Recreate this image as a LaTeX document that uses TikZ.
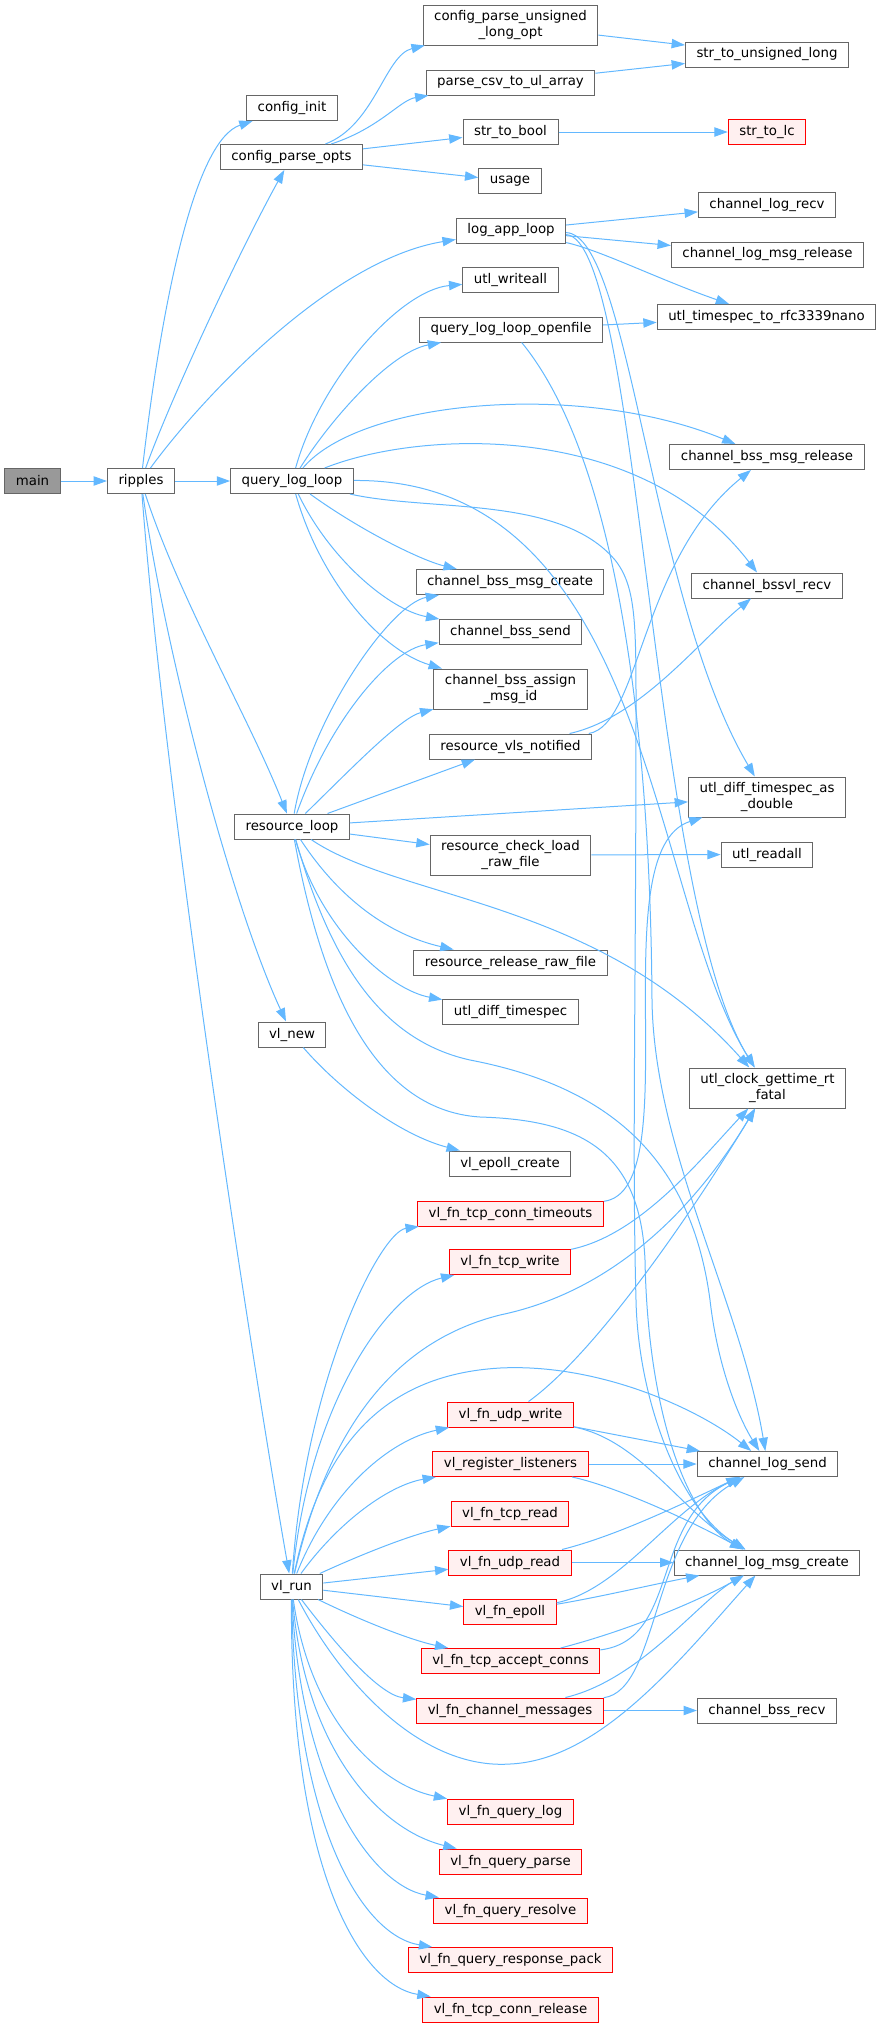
\documentclass[tikz,border=0pt]{standalone}
\usepackage{fontspec}
\setmainfont{DejaVu Sans}
\usetikzlibrary{arrows.meta}
\definecolor{edgeblue}{HTML}{63B8FF}
\definecolor{boxgray}{HTML}{666666}
\definecolor{rootgray}{HTML}{999999}
\definecolor{truncfill}{HTML}{FFF0F0}
\begin{document}
\begin{tikzpicture}[x=0.75pt, y=-0.75pt,
    fn/.style={draw=boxgray, fill=white, line width=0.75pt, font=\fontsize{10pt}{11.5pt}\selectfont,
      inner xsep=8.3pt, inner ysep=1pt, minimum height=18.75pt, align=center},
    tall/.style={minimum height=30pt},
    root/.style={fill=rootgray},
    trunc/.style={draw=red, fill=truncfill},
    calls/.style={draw=edgeblue, line width=0.75pt, -{Triangle[length=10pt,width=7pt]}}]
    \useasboundingbox (0,0) rectangle (880,2027);
    \node[fn, root] (v1) at (32.5,481) {main};
    \node[fn] (v2) at (141,481) {ripples};
    \node[fn] (v3) at (292,108) {config\_init};
    \node[fn] (v4) at (291.5,157) {config\_parse\_opts};
    \node[fn] (v5) at (511,230.5) {log\_app\_loop};
    \node[fn] (v6) at (292,481) {query\_log\_loop};
    \node[fn] (v7) at (292,826.5) {resource\_loop};
    \node[fn] (v8) at (292,1034.5) {vl\_new};
    \node[fn] (v9) at (291.5,1586.5) {vl\_run};
    \node[fn, tall] (v10) at (510.5,25) {config\_parse\_unsigned\\\_long\_opt};
    \node[fn] (v11) at (510.5,82.5) {parse\_csv\_to\_ul\_array};
    \node[fn] (v12) at (510.5,132) {str\_to\_bool};
    \node[fn] (v13) at (510,181) {usage};
    \node[fn] (v14) at (767,54.5) {str\_to\_unsigned\_long};
    \node[fn, trunc] (v15) at (767,132) {str\_to\_lc};
    \node[fn] (v16) at (767,205) {channel\_log\_recv};
    \node[fn] (v17) at (767.5,254.5) {channel\_log\_msg\_release};
    \node[fn] (v18) at (766.5,317) {utl\_timespec\_to\_rfc3339nano};
    \node[fn] (v19) at (510.5,280) {utl\_writeall};
    \node[fn] (v20) at (511,329.5) {query\_log\_loop\_openfile};
    \node[fn] (v21) at (767,457) {channel\_bss\_msg\_release};
    \node[fn] (v22) at (767,585.5) {channel\_bssvl\_recv};
    \node[fn] (v23) at (510,582) {channel\_bss\_msg\_create};
    \node[fn] (v24) at (510.5,632) {channel\_bss\_send};
    \node[fn, tall] (v25) at (510.5,689) {channel\_bss\_assign\\\_msg\_id};
    \node[fn] (v26) at (510.5,746.5) {resource\_vls\_notified};
    \node[fn, tall] (v27) at (767,797) {utl\_diff\_timespec\_as\\\_double};
    \node[fn, tall] (v28) at (510.5,855) {resource\_check\_load\\\_raw\_file};
    \node[fn] (v29) at (767,854.5) {utl\_readall};
    \node[fn] (v30) at (510.5,962.5) {resource\_release\_raw\_file};
    \node[fn] (v31) at (510.5,1012) {utl\_diff\_timespec};
    \node[fn, tall] (v32) at (767.5,1088) {utl\_clock\_gettime\_rt\\\_fatal};
    \node[fn] (v33) at (510,1163.5) {vl\_epoll\_create};
    \node[fn, trunc] (v34) at (510.5,1213.5) {vl\_fn\_tcp\_conn\_timeouts};
    \node[fn, trunc] (v35) at (510,1262) {vl\_fn\_tcp\_write};
    \node[fn, trunc] (v36) at (510.5,1414.5) {vl\_fn\_udp\_write};
    \node[fn, trunc] (v37) at (510.5,1464) {vl\_register\_listeners};
    \node[fn] (v38) at (767.5,1464) {channel\_log\_send};
    \node[fn, trunc] (v39) at (510,1513.5) {vl\_fn\_tcp\_read};
    \node[fn, trunc] (v40) at (510,1562.5) {vl\_fn\_udp\_read};
    \node[fn] (v41) at (767,1562.5) {channel\_log\_msg\_create};
    \node[fn, trunc] (v42) at (510,1612) {vl\_fn\_epoll};
    \node[fn, trunc] (v43) at (510.5,1661) {vl\_fn\_tcp\_accept\_conns};
    \node[fn, trunc] (v44) at (510,1710.5) {vl\_fn\_channel\_messages};
    \node[fn] (v45) at (767,1710.5) {channel\_bss\_recv};
    \node[fn, trunc] (v46) at (510.5,1811.5) {vl\_fn\_query\_log};
    \node[fn, trunc] (v47) at (510.5,1861.5) {vl\_fn\_query\_parse};
    \node[fn, trunc] (v48) at (510.5,1910.5) {vl\_fn\_query\_resolve};
    \node[fn, trunc] (v49) at (510.5,1960) {vl\_fn\_query\_response\_pack};
    \node[fn, trunc] (v50) at (510.5,2009.5) {vl\_fn\_tcp\_conn\_release};
    \draw[calls] (v1) -- (v2);
    \draw[calls] (v2) .. controls (162,300) and (195,140) .. (v3);
    \draw[calls] (v2) .. controls (170,400) and (240,250) .. (v4);
    \draw[calls] (v2) .. controls (200,400) and (330,260) .. (v5);
    \draw[calls] (v2) -- (v6);
    \draw[calls] (v2) .. controls (180,600) and (250,720) .. (v7);
    \draw[calls] (v2) .. controls (165,650) and (230,900) .. (v8);
    \draw[calls] (v2) .. controls (165,800) and (255,1380) .. (v9);
    \draw[calls] (v4) .. controls (375,125) and (385,55) .. (v10);
    \draw[calls] (v4) .. controls (380,128) and (400,100) .. (v11);
    \draw[calls] (v4) -- (v12);
    \draw[calls] (v4) -- (v13);
    \draw[calls] (v10) -- (v14);
    \draw[calls] (v11) -- (v14);
    \draw[calls] (v12) -- (v15);
    \draw[calls] (v5) -- (v16);
    \draw[calls] (v5) -- (v17);
    \draw[calls] (v5) .. controls (600,250) and (660,280) .. (v18);
    \draw[calls] (v5) .. controls (630,235) and (650,600) .. (v27);
    \draw[calls] (v5) .. controls (640,240) and (650,900) .. (v32);
    \draw[calls] (v6) .. controls (320,380) and (400,290) .. (v19);
    \draw[calls] (v6) .. controls (330,420) and (390,352) .. (v20);
    \draw[calls] (v6) .. controls (360,400) and (580,380) .. (v21);
    \draw[calls] (v6) .. controls (420,430) and (640,420) .. (v22);
    \draw[calls] (v6) .. controls (650,478) and (650,900) .. (v32);
    \draw[calls] (v6) .. controls (430,512) and (560,495) .. (615,560) .. controls (635,585) and (636,620) .. (636,700) .. controls (636,1000) and (632,1150) .. (636,1300) .. controls (638,1400) and (680,1510) .. (v41);
    \draw[calls] (v6) .. controls (360,530) and (420,560) .. (v23);
    \draw[calls] (v6) .. controls (330,560) and (390,610) .. (v24);
    \draw[calls] (v6) .. controls (320,580) and (380,650) .. (v25);
    \draw[calls] (v20) -- (v18);
    \draw[calls] (v20) .. controls (610,450) and (650,700) .. (652,1000) .. controls (654,1150) and (740,1300) .. (v38);
    \draw[calls] (v26) .. controls (640,725) and (640,560) .. (v21);
    \draw[calls] (v26) .. controls (640,718) and (700,640) .. (v22);
    \draw[calls] (v7) .. controls (310,720) and (390,604) .. (v23);
    \draw[calls] (v7) .. controls (330,720) and (390,650) .. (v24);
    \draw[calls] (v7) .. controls (350,770) and (400,718) .. (v25);
    \draw[calls] (v7) -- (v26);
    \draw[calls] (v7) -- (v27);
    \draw[calls] (v7) -- (v28);
    \draw[calls] (v7) .. controls (400,900) and (600,900) .. (v32);
    \draw[calls] (v7) .. controls (340,900) and (390,935) .. (v30);
    \draw[calls] (v7) .. controls (320,930) and (390,990) .. (v31);
    \draw[calls] (v7) .. controls (330,960) and (380,1040) .. (470,1060) .. controls (600,1085) and (690,1150) .. (710,1300) .. controls (718,1370) and (740,1420) .. (v38);
    \draw[calls] (v7) .. controls (320,980) and (370,1110) .. (480,1117) .. controls (580,1120) and (640,1150) .. (645,1260) .. controls (648,1420) and (690,1520) .. (v41);
    \draw[calls] (v28) -- (v29);
    \draw[calls] (v8) .. controls (340,1090) and (400,1135) .. (v33);
    \draw[calls] (v34) .. controls (690,1190) and (600,850) .. (v27);
    \draw[calls] (v35) .. controls (640,1235) and (700,1160) .. (v32);
    \draw[calls] (v36) .. controls (600,1350) and (700,1200) .. (v32);
    \draw[calls] (v36) -- (v38);
    \draw[calls] (v36) .. controls (640,1440) and (680,1510) .. (v41);
    \draw[calls] (v37) -- (v38);
    \draw[calls] (v37) .. controls (610,1485) and (680,1515) .. (v41);
    \draw[calls] (v40) .. controls (620,1535) and (690,1500) .. (v38);
    \draw[calls] (v40) -- (v41);
    \draw[calls] (v42) .. controls (620,1590) and (670,1510) .. (v38);
    \draw[calls] (v42) .. controls (600,1597) and (650,1585) .. (v41);
    \draw[calls] (v43) .. controls (680,1640) and (650,1520) .. (v38);
    \draw[calls] (v43) .. controls (630,1630) and (700,1600) .. (v41);
    \draw[calls] (v44) -- (v45);
    \draw[calls] (v44) .. controls (660,1690) and (650,1530) .. (v38);
    \draw[calls] (v44) .. controls (640,1680) and (700,1600) .. (v41);
    \draw[calls] (v9) .. controls (305,1380) and (380,1232) .. (v34);
    \draw[calls] (v9) .. controls (310,1400) and (390,1290) .. (v35);
    \draw[calls] (v9) .. controls (330,1420) and (400,1340) .. (500,1315) .. controls (620,1290) and (700,1200) .. (v32);
    \draw[calls] (v9) .. controls (320,1450) and (380,1375) .. (500,1368) .. controls (600,1363) and (700,1410) .. (v38);
    \draw[calls] (v9) .. controls (330,1490) and (390,1440) .. (v36);
    \draw[calls] (v9) .. controls (340,1520) and (390,1485) .. (v37);
    \draw[calls] (v9) .. controls (360,1555) and (410,1535) .. (v39);
    \draw[calls] (v9) -- (v40);
    \draw[calls] (v9) -- (v42);
    \draw[calls] (v9) .. controls (360,1620) and (410,1640) .. (v43);
    \draw[calls] (v9) .. controls (340,1650) and (380,1695) .. (v44);
    \draw[calls] (v9) .. controls (340,1680) and (420,1770) .. (510,1764) .. controls (600,1760) and (680,1660) .. (v41);
    \draw[calls] (v9) .. controls (310,1720) and (380,1785) .. (v46);
    \draw[calls] (v9) .. controls (305,1750) and (380,1830) .. (v47);
    \draw[calls] (v9) .. controls (300,1780) and (370,1885) .. (v48);
    \draw[calls] (v9) .. controls (295,1820) and (360,1935) .. (v49);
    \draw[calls] (v9) .. controls (290,1870) and (360,1985) .. (v50);
\end{tikzpicture}
\end{document}
